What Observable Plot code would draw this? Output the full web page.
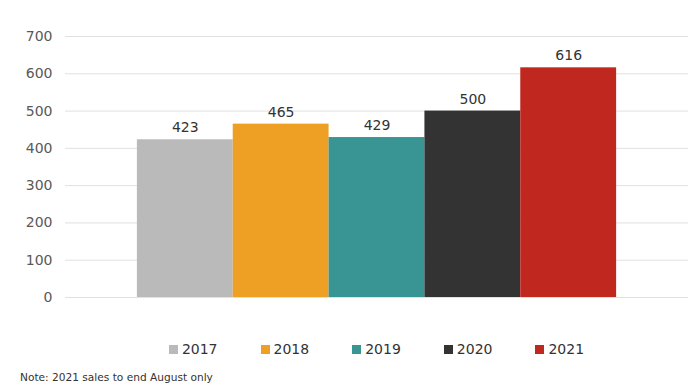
<!DOCTYPE html>
<html>
<head>
<meta charset="utf-8">
<script src="https://cdn.jsdelivr.net/npm/d3@7"></script>
<script src="https://cdn.jsdelivr.net/npm/@observablehq/plot@0.6"></script>
<style>
  body { margin: 0; background: #fff; font-family: "DejaVu Sans", Verdana, sans-serif; }
  #chart { width: 692px; }
  .legend { display: flex; justify-content: center; gap: 43px; margin-top: 16px; margin-left: 61px; width: 631px; font-size: 14px; color: #333; }
  .legend .item { display: flex; align-items: center; }
  .legend .sw { width: 9px; height: 9px; margin-right: 4px; }
  .note { font-size: 10.6px; color: #333; margin-left: 20px; margin-top: 14px; }
</style>
</head>
<body>
<div id="chart"></div>
<script>
const years = ["2017", "2018", "2019", "2020", "2021"];
const sales = [423, 465, 429, 500, 616];
const colors = ["#bababa", "#eea025", "#389594", "#333333", "#c0281f"];
const yTicks = [0, 100, 200, 300, 400, 500, 600, 700];
const noteText = "Note: 2021 sales to end August only";

const data = years.map((y, i) => ({year: y, value: sales[i]}));

const plot = Plot.plot({
  width: 692,
  height: 325,
  marginTop: 36,
  marginBottom: 28,
  marginLeft: 65,
  marginRight: 4,
  style: {fontFamily: "DejaVu Sans, Verdana, sans-serif", fontSize: "14px", color: "#595959", background: "#fff"},
  x: {domain: years, paddingInner: 0, paddingOuter: 0.75, round: false, axis: null},
  y: {domain: [0, 700], ticks: yTicks, label: null, tickSize: 0, tickPadding: 13},
  color: {domain: years, range: colors},
  marks: [
    Plot.gridY(yTicks, {stroke: "#e0e0e0", strokeOpacity: 1, strokeWidth: 1}),
    Plot.axisY(yTicks, {tickSize: 0, tickPadding: 13, label: null, fill: "#595959", fontSize: 14}),
    Plot.barY(data, {x: "year", y: "value", fill: "year", inset: 0}),
    Plot.text(data, {x: "year", y: "value", text: d => String(d.value), dy: -12, fill: "#333", fontSize: 14})
  ]
});
document.getElementById("chart").appendChild(plot);

const legend = document.createElement("div");
legend.className = "legend";
years.forEach((y, i) => {
  const it = document.createElement("div");
  it.className = "item";
  const sw = document.createElement("span");
  sw.className = "sw";
  sw.style.background = colors[i];
  const t = document.createElement("span");
  t.textContent = y;
  it.appendChild(sw); it.appendChild(t);
  legend.appendChild(it);
});
document.body.appendChild(legend);

const note = document.createElement("div");
note.className = "note";
note.textContent = noteText;
document.body.appendChild(note);
</script>
</body>
</html>
